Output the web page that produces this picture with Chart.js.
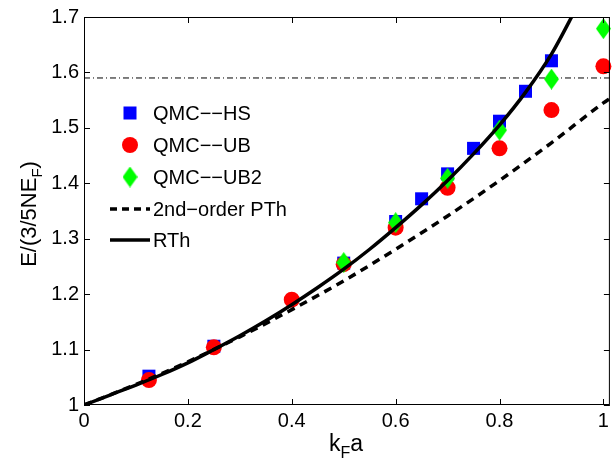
<!DOCTYPE html>
<html><head><meta charset="utf-8">
<script src="https://cdn.jsdelivr.net/npm/chart.js@4.4.0/dist/chart.umd.min.js"></script>
<style>html,body{margin:0;padding:0;background:#fff}#wrap{width:613px;height:464px;position:relative}</style>
</head><body><div id="wrap"><canvas id="c"></canvas></div>
<script>
// ---- data ----
const xTicks = [0, 0.2, 0.4, 0.6, 0.8, 1];
const xTickLabels = ['0', '0.2', '0.4', '0.6', '0.8', '1'];
const yTicks = [1, 1.1, 1.2, 1.3, 1.4, 1.5, 1.6, 1.7];
const yTickLabels = ['1', '1.1', '1.2', '1.3', '1.4', '1.5', '1.6', '1.7'];

const hsX = [0.125, 0.25, 0.5, 0.6, 0.65, 0.7, 0.75, 0.8, 0.85, 0.9];
const hsY = [1.052, 1.106, 1.256, 1.331, 1.372, 1.417, 1.463, 1.512, 1.566, 1.621];

const ubX = [0.125, 0.25, 0.4, 0.5, 0.6, 0.7, 0.8, 0.9, 1.0];
const ubY = [1.045, 1.104, 1.19, 1.254, 1.32, 1.392, 1.463, 1.532, 1.611];

const ub2X = [0.5, 0.6, 0.7, 0.8, 0.9, 1.0];
const ub2Y = [1.257, 1.329, 1.409, 1.496, 1.588, 1.679];

const pthX = [0, 0.1, 0.2, 0.3, 0.4, 0.5, 0.6, 0.7, 0.8, 0.9, 1.0, 1.0125];
const pthY = [1, 1.037, 1.078, 1.123, 1.172, 1.224, 1.281, 1.341, 1.405, 1.473, 1.545, 1.553];

const rthX = [0, 0.05, 0.1, 0.15, 0.2, 0.25, 0.3, 0.35, 0.4, 0.45, 0.5, 0.55, 0.6, 0.65, 0.7, 0.75, 0.8, 0.85, 0.9, 0.95];
const rthY = [1, 1.018, 1.036, 1.055, 1.076, 1.1, 1.125, 1.152, 1.181, 1.212, 1.245, 1.281, 1.32, 1.361, 1.405, 1.453, 1.505, 1.564, 1.633, 1.72];

const refX = [0, 1.0125];
const refY = [1.59, 1.59];

const seriesNames = ['QMC\u2212\u2212HS', 'QMC\u2212\u2212UB', 'QMC\u2212\u2212UB2', '2nd\u2212order PTh', 'RTh'];
const xTitle = ['k', 'F', 'a'];
const yTitle = ['E/(3/5NE', 'F', ')'];

// ---- helpers ----
const pts = (xs, ys) => xs.map((x, i) => ({x: x, y: ys[i]}));
function diamondImg(w, h, color) {
  const c = document.createElement('canvas');
  c.width = w; c.height = h;
  const g = c.getContext('2d');
  g.fillStyle = color;
  g.beginPath();
  g.moveTo(w / 2, 0); g.lineTo(w, h / 2); g.lineTo(w / 2, h); g.lineTo(0, h / 2);
  g.closePath(); g.fill();
  return c;
}
const diamond = diamondImg(15, 21, '#00ff00');
const FONT = '"Liberation Sans", Arial, Helvetica, sans-serif';

const framePlugin = {
  id: 'frame',
  afterDatasetsDraw(chart) {
    const ctx = chart.ctx, a = chart.chartArea;
    const xs = chart.scales.x, ys = chart.scales.y;
    ctx.save();
    ctx.strokeStyle = '#000';
    ctx.lineWidth = 1;
    ctx.strokeRect(a.left + 0.5, a.top + 0.5, a.right - a.left - 1, a.bottom - a.top - 1);
    const tl = 6;
    ctx.beginPath();
    xs.ticks.forEach(t => {
      const px = Math.round(xs.getPixelForValue(t.value)) + 0.5;
      ctx.moveTo(px, a.bottom); ctx.lineTo(px, a.bottom - tl);
      ctx.moveTo(px, a.top); ctx.lineTo(px, a.top + tl);
    });
    ys.ticks.forEach(t => {
      const py = Math.round(ys.getPixelForValue(t.value)) + 0.5;
      ctx.moveTo(a.left, py); ctx.lineTo(a.left + tl, py);
      ctx.moveTo(a.right, py); ctx.lineTo(a.right - tl, py);
    });
    ctx.stroke();
    ctx.restore();
  },
  afterDraw(chart) {
    const ctx = chart.ctx;
    ctx.save();
    ctx.fillStyle = '#000';
    // x title
    ctx.textBaseline = 'alphabetic';
    const big = '23px ' + FONT, small = '16px ' + FONT;
    ctx.font = big; const wk = ctx.measureText(xTitle[0]).width, wa = ctx.measureText(xTitle[2]).width;
    ctx.font = small; const wf = ctx.measureText(xTitle[1]).width;
    let x0 = 346 - (wk + wf + wa) / 2, base = 451;
    ctx.font = big; ctx.fillText(xTitle[0], x0, base);
    ctx.font = small; ctx.fillText(xTitle[1], x0 + wk, base + 7);
    ctx.font = big; ctx.fillText(xTitle[2], x0 + wk + wf, base);
    // y title
    const yb = '22px ' + FONT, ys2 = '15px ' + FONT;
    ctx.font = yb; const w1 = ctx.measureText(yTitle[0]).width, w3 = ctx.measureText(yTitle[2]).width;
    ctx.font = ys2; const w2 = ctx.measureText(yTitle[1]).width;
    ctx.translate(36, 214);
    ctx.rotate(-Math.PI / 2);
    let s = -(w1 + w2 + w3) / 2;
    ctx.font = yb; ctx.fillText(yTitle[0], s, 0);
    ctx.font = ys2; ctx.fillText(yTitle[1], s + w1, 6);
    ctx.font = yb; ctx.fillText(yTitle[2], s + w1 + w2, 0);
    ctx.restore();

    // legend
    ctx.save();
    ctx.font = '20px ' + FONT;
    ctx.textBaseline = 'middle';
    ctx.fillStyle = '#000';
    const rows = [113, 145, 177, 209, 240];
    const mx = 130, tx = 153;
    ctx.fillStyle = '#0000ff'; ctx.fillRect(mx - 6.5, rows[0] - 6.5, 13, 13);
    ctx.fillStyle = '#ff0000'; ctx.beginPath(); ctx.arc(mx, rows[1], 8, 0, Math.PI * 2); ctx.fill();
    ctx.drawImage(diamond, mx - 7.5, rows[2] - 10.5);
    ctx.strokeStyle = '#000'; ctx.lineWidth = 3.5;
    ctx.setLineDash([7, 5]);
    ctx.beginPath(); ctx.moveTo(110, rows[3]); ctx.lineTo(150, rows[3]); ctx.stroke();
    ctx.setLineDash([]);
    ctx.beginPath(); ctx.moveTo(110, rows[4]); ctx.lineTo(150, rows[4]); ctx.stroke();
    ctx.fillStyle = '#000';
    seriesNames.forEach((n, i) => ctx.fillText(n, tx, rows[i] + 1));
    ctx.restore();
  }
};

new Chart(document.getElementById('c'), {
  type: 'scatter',
  data: {
    datasets: [
      {label: seriesNames[4], data: pts(rthX, rthY), showLine: true, borderColor: '#000', borderWidth: 3.5, pointRadius: 0, cubicInterpolationMode: 'monotone', clip: 0, order: 0},
      {label: seriesNames[3], data: pts(pthX, pthY), showLine: true, borderColor: '#000', borderWidth: 3.5, borderDash: [8, 6], pointRadius: 0, cubicInterpolationMode: 'monotone', clip: 0, order: 0},
      {label: 'ref', data: pts(refX, refY), showLine: true, borderColor: '#000', borderWidth: 1, borderDash: [6, 3, 1, 3], pointRadius: 0, clip: 0, order: 5},
      {label: seriesNames[2], data: pts(ub2X, ub2Y), pointStyle: diamond, pointRadius: 10, backgroundColor: '#00ff00', borderWidth: 0, clip: false, order: 1},
      {label: seriesNames[1], data: pts(ubX, ubY), pointStyle: 'circle', pointRadius: 8, backgroundColor: '#ff0000', borderColor: '#ff0000', borderWidth: 0, clip: false, order: 2},
      {label: seriesNames[0], data: pts(hsX, hsY), pointStyle: 'rect', pointRadius: 9.2, backgroundColor: '#0000ff', borderColor: '#0000ff', borderWidth: 0, clip: false, order: 3}
    ]
  },
  options: {
    responsive: true,
    maintainAspectRatio: false,
    animation: false,
    layout: {autoPadding: false, padding: {top: 12, right: 3, left: 0, bottom: 0}},
    plugins: {legend: {display: false}, tooltip: {enabled: false}},
    scales: {
      x: {
        type: 'linear', min: 0, max: 1.0125,
        afterBuildTicks: s => { s.ticks = xTicks.map(v => ({value: v})); },
        afterFit: s => { s.height = 59; },
        grid: {display: false, drawTicks: false},
        border: {display: false},
        ticks: {color: '#000', padding: 4, maxRotation: 0, autoSkip: false, font: {family: FONT, size: 20}, callback: (v, i) => xTickLabels[i]}
      },
      y: {
        type: 'linear', min: 1, max: 1.7,
        afterBuildTicks: s => { s.ticks = yTicks.map(v => ({value: v})); },
        afterFit: s => { s.width = 84; },
        grid: {display: false, drawTicks: false},
        border: {display: false},
        ticks: {color: '#000', padding: 5, autoSkip: false, font: {family: FONT, size: 20}, callback: (v, i) => yTickLabels[i]}
      }
    }
  },
  plugins: [framePlugin]
});
</script></body></html>
